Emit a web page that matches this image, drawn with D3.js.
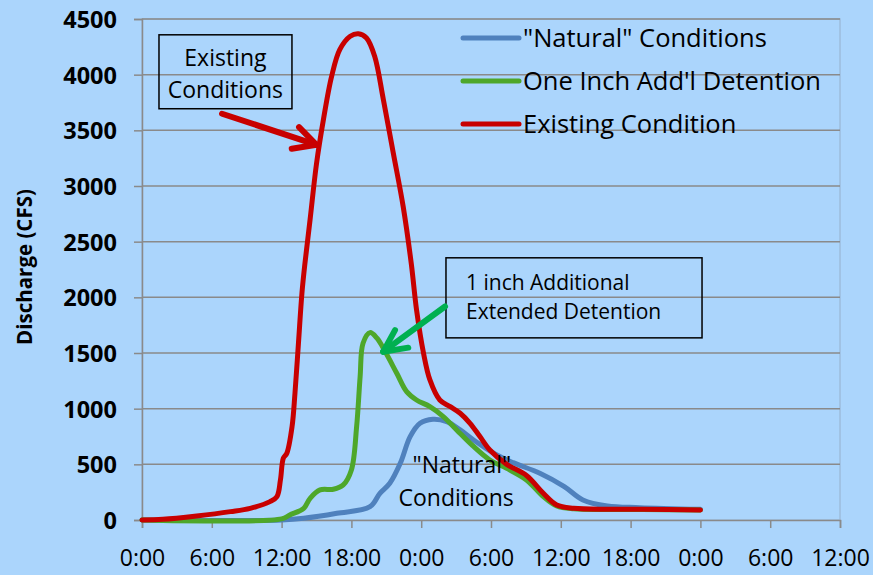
<!DOCTYPE html>
<html>
<head>
<meta charset="utf-8">
<script src="https://cdn.jsdelivr.net/npm/d3@7"></script>
<style>
  body { margin: 0; background: #abd5fc; }
  svg text { font-family: "Open Sans", sans-serif; fill: #000; }
</style>
</head>
<body>
<div id="chart"></div>
<script>
// hours since 0:00 on day one, discharge in CFS
const naturalHours = [0, 12.0, 13.9, 16.75, 19.6, 20.45, 21.3, 22.2, 23.05, 23.9, 25.0, 26.2, 27.35, 28.5, 30.5, 31.9, 34.2, 36.3, 37.9, 40, 42.8, 48];
const naturalFlow  = [0, 0, 15, 60, 120, 240, 330, 509, 749, 869, 905, 884, 809, 719, 584, 515, 420, 300, 180, 126, 111, 96];

const detentionHours = [0, 12.0, 12.7, 13.9, 14.45, 15.3, 16.45, 17.3, 18.0, 18.45, 18.75, 19.0, 19.6, 20.2, 20.9, 21.9, 22.75, 23.6, 24.75, 25.9, 27.05, 28.4, 29.9, 31.35, 33.05, 34.5, 35.65, 37.1, 40, 43, 48];
const detentionFlow  = [0, 10, 45, 105, 195, 270, 276, 315, 449, 839, 1288, 1588, 1683, 1633, 1513, 1318, 1153, 1078, 1018, 929, 809, 670, 539, 464, 360, 210, 126, 100, 95, 95, 90];

const existingHours = [0, 1.8, 4.7, 7.6, 9.3, 11.0, 11.6, 11.9, 12.15, 12.45, 12.9, 13.15, 13.45, 13.75, 14.0, 14.45, 15.0, 15.6, 16.3, 17.0, 17.9, 18.6, 19.3, 20.0, 20.75, 21.6, 22.45, 23.15, 23.6, 24.2, 24.75, 25.6, 26.5, 27.35, 28.2, 29.05, 29.9, 31.35, 33.05, 34.5, 35.65, 37.1, 40, 43, 48];
const existingFlow  = [0, 6, 36, 75, 105, 165, 210, 360, 555, 600, 840, 1140, 1590, 2040, 2300, 2700, 3200, 3600, 3985, 4225, 4345, 4368, 4330, 4165, 3775, 3296, 2816, 2300, 1887, 1498, 1258, 1078, 1018, 959, 869, 749, 629, 500, 400, 240, 135, 105, 96, 96, 90];

const seriesNames = ['"Natural" Conditions', "One Inch Add'l Detention", "Existing Condition"];
const xTickHours = [0, 6, 12, 18, 24, 30, 36, 42, 48, 54, 60];
const xTickLabels = ["0:00", "6:00", "12:00", "18:00", "0:00", "6:00", "12:00", "18:00", "0:00", "6:00", "12:00"];
const yTicks = [0, 500, 1000, 1500, 2000, 2500, 3000, 3500, 4000, 4500];

let svg = d3.select("#chart").append("svg")
    .attr("width", 873)
    .attr("height", 575),
    width = +svg.attr("width"),
    height = +svg.attr("height");

let margin = { top: 19, right: 33, bottom: 55, left: 142 };

let x = d3.scaleLinear()
    .domain([0, 60])
    .range([margin.left, width - margin.right]);

let y = d3.scaleLinear()
    .domain([0, 4500])
    .range([height - margin.bottom, margin.top]);

let colors = ["#4f81bd", "#4ea72a", "#c80000"];

// plot area border
svg.append("rect")
    .attr("x", x(0)).attr("y", y(4500))
    .attr("width", x(60) - x(0)).attr("height", y(0) - y(4500))
    .attr("fill", "none").attr("stroke", "#9dbcdc").attr("stroke-width", 1.5);

// gridlines
svg.append("g")
    .selectAll("line")
    .data(yTicks.slice(1))
    .enter().append("line")
    .attr("x1", x(0)).attr("x2", x(60))
    .attr("y1", d => y(d)).attr("y2", d => y(d))
    .attr("stroke", "#8a8a8a").attr("stroke-width", 1.5);

let yAxis = d3.axisLeft(y)
    .tickValues(yTicks)
    .tickSize(8)
    .tickPadding(17)
    .tickFormat(d3.format("d"));

let gY = svg.append("g")
    .attr("transform", "translate(" + x(0) + ",0)")
    .call(yAxis);
gY.select(".domain").attr("stroke", "#8a8a8a").attr("stroke-width", 1.5);
gY.selectAll(".tick line").attr("stroke", "#8a8a8a").attr("stroke-width", 1.5);
gY.selectAll(".tick text")
    .style("font-family", '"Open Sans", sans-serif')
    .style("font-size", "23.5px").style("font-weight", "bold")
    .attr("dy", "0.36em");

let xAxis = d3.axisBottom(x)
    .tickValues(xTickHours)
    .tickSize(8)
    .tickPadding(22)
    .tickFormat((d, i) => xTickLabels[i]);

let gX = svg.append("g")
    .attr("transform", "translate(0," + y(0) + ")")
    .call(xAxis);
gX.select(".domain").attr("stroke", "#8a8a8a").attr("stroke-width", 1.5);
gX.selectAll(".tick line").attr("stroke", "#8a8a8a").attr("stroke-width", 1.5);
gX.selectAll(".tick text")
    .style("font-family", '"Open Sans", sans-serif')
    .style("font-size", "23px");

svg.append("text")
    .attr("transform", "translate(32,267) rotate(-90)")
    .attr("text-anchor", "middle")
    .style("font-size", "20.5px").style("font-weight", "bold")
    .text("Discharge (CFS)");

// series
let line = d3.line()
    .x(d => x(d.h))
    .y(d => y(d.v))
    .curve(d3.curveCatmullRom.alpha(0.5));

let series = [
    naturalHours.map((h, i) => ({ h: h, v: naturalFlow[i] })),
    detentionHours.map((h, i) => ({ h: h, v: detentionFlow[i] })),
    existingHours.map((h, i) => ({ h: h, v: existingFlow[i] }))
];

svg.append("g")
    .selectAll("path")
    .data(series)
    .enter().append("path")
    .attr("d", line)
    .attr("fill", "none")
    .attr("stroke", (d, i) => colors[i])
    .attr("stroke-width", 5)
    .attr("stroke-linecap", "round")
    .attr("stroke-linejoin", "round");

// legend
let legend = svg.append("g")
    .selectAll("g")
    .data(seriesNames)
    .enter().append("g")
    .attr("transform", (d, i) => "translate(463," + (38 + i * 43) + ")");

legend.append("line")
    .attr("x1", 0).attr("x2", 56)
    .attr("stroke", (d, i) => colors[i])
    .attr("stroke-width", 5)
    .attr("stroke-linecap", "round");

legend.append("text")
    .attr("x", 60).attr("y", 8.5)
    .style("font-size", "25.5px")
    .text(d => d);

// annotation boxes, positioned in data units
function box(h0, v0, h1, v1) {
    svg.append("rect")
        .attr("x", x(h0)).attr("y", y(v0))
        .attr("width", x(h1) - x(h0)).attr("height", y(v1) - y(v0))
        .attr("fill", "none").attr("stroke", "#000").attr("stroke-width", 1.5);
}

box(1.46, 4358, 12.89, 3694);
svg.append("text").attr("x", x(7.17)).attr("y", y(4082)).attr("text-anchor", "middle")
    .style("font-size", "23px").text("Existing");
svg.append("text").attr("x", x(7.17)).attr("y", y(3788)).attr("text-anchor", "middle")
    .style("font-size", "23px").text("Conditions");

box(26.13, 2355, 48.14, 1636);
svg.append("text").attr("x", x(27.85)).attr("y", y(2067)).style("font-size", "21px").text("1 inch Additional");
svg.append("text").attr("x", x(27.85)).attr("y", y(1807)).style("font-size", "21px").text("Extended Detention");

svg.append("text").attr("x", x(27.5)).attr("y", y(422)).attr("text-anchor", "middle")
    .style("font-size", "23px").text('"Natural"');
svg.append("text").attr("x", x(27.0)).attr("y", y(126)).attr("text-anchor", "middle")
    .style("font-size", "23px").text("Conditions");

// arrows
function arrow(from, tip, armA, armB, color) {
    let g = svg.append("g")
        .attr("stroke", color).attr("stroke-width", 6)
        .attr("stroke-linecap", "round").attr("fill", "none");
    [from, armA, armB].forEach(p => {
        g.append("line")
            .attr("x1", x(p[0])).attr("y1", y(p[1]))
            .attr("x2", x(tip[0])).attr("y2", y(tip[1]));
    });
}

arrow([6.88, 3649], [15.0, 3370], [13.5, 3529], [12.87, 3335], "#c80000");
arrow([26.05, 1918], [20.74, 1512], [21.75, 1706], [22.89, 1548], "#00b050");
</script>
</body>
</html>
